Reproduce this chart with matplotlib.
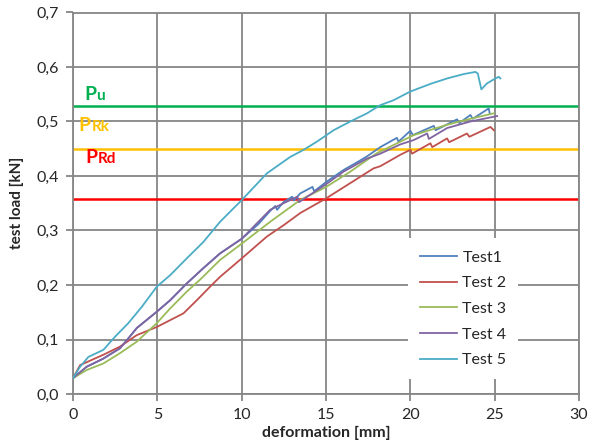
import matplotlib
matplotlib.use("Agg")
import matplotlib.pyplot as plt
from matplotlib.ticker import FuncFormatter, MultipleLocator

plt.rcParams['font.family'] = ['Lato', 'DejaVu Sans']

# ---- data ----
t1_x = [0, 0.42, 0.81, 1.8, 2.79, 3.28, 3.78, 4.97, 5.76, 6.75, 7.73, 8.72, 10.01, 11.0, 11.69,
        12.0, 12.1, 12.48, 13.0, 13.1, 13.47, 14.2, 14.3, 15.01, 16.04, 17.0, 17.43, 18.22,
        19.2, 19.3, 20.0, 20.15, 21.39, 21.5, 22.77, 22.9, 23.56, 23.7, 24.65, 24.71]
t1_y = [0.029, 0.040, 0.050, 0.065, 0.084, 0.102, 0.121, 0.151, 0.172, 0.203, 0.231, 0.258, 0.285, 0.312, 0.336,
        0.345, 0.338, 0.352, 0.362, 0.355, 0.368, 0.380, 0.372, 0.389, 0.411, 0.428, 0.436, 0.453,
        0.470, 0.463, 0.483, 0.475, 0.492, 0.484, 0.504, 0.497, 0.512, 0.505, 0.524, 0.514]

t2_x = [0, 0.42, 1.8, 2.79, 3.78, 4.97, 6.55, 7.34, 8.13, 8.72, 10.01, 11.5, 12.5, 13.47, 15.01,
        16.44, 17.82, 18.22, 19.41, 20.0, 20.1, 21.19, 21.3, 22.18, 22.3, 23.36, 23.5, 24.75, 24.95]
t2_y = [0.029, 0.053, 0.072, 0.087, 0.108, 0.123, 0.148, 0.172, 0.197, 0.215, 0.249, 0.289, 0.310, 0.332, 0.359,
        0.387, 0.414, 0.418, 0.439, 0.448, 0.441, 0.460, 0.453, 0.469, 0.462, 0.478, 0.472, 0.490, 0.484]

t3_x = [0, 0.81, 1.8, 2.79, 3.78, 4.97, 5.76, 6.75, 7.54, 8.72, 10.01, 11.69, 13.47, 15.01, 16.44,
        18.02, 19.41, 20.2, 22.18, 23.56, 24.95]
t3_y = [0.029, 0.044, 0.056, 0.075, 0.096, 0.130, 0.157, 0.188, 0.210, 0.246, 0.276, 0.316, 0.356, 0.380, 0.408,
        0.442, 0.463, 0.475, 0.494, 0.505, 0.515]

t4_x = [0, 0.81, 1.8, 2.79, 3.28, 3.78, 4.97, 5.76, 6.75, 7.73, 8.72, 10.01, 11.69, 12.48, 13.3, 13.4,
        15.01, 16.04, 17.43, 18.22, 19.41, 20.2, 21.0, 21.1, 22.18, 23.56, 25.15]
t4_y = [0.029, 0.050, 0.065, 0.084, 0.102, 0.121, 0.151, 0.172, 0.203, 0.231, 0.258, 0.285, 0.338, 0.350, 0.362, 0.352,
        0.385, 0.408, 0.432, 0.441, 0.458, 0.466, 0.478, 0.468, 0.488, 0.500, 0.510]

t5_x = [0, 0.42, 0.91, 1.8, 2.49, 3.28, 4.08, 4.97, 5.76, 6.75, 7.73, 8.72, 10.01, 11.5, 12.88, 13.67,
        14.46, 15.45, 16.44, 17.43, 18.22, 19.0, 20.0, 21.19, 22.18, 23.16, 23.86, 24.0, 24.21, 24.55,
        25.04, 25.24, 25.34]
t5_y = [0.029, 0.050, 0.068, 0.081, 0.105, 0.130, 0.160, 0.197, 0.218, 0.249, 0.279, 0.316, 0.356, 0.405, 0.435, 0.448,
        0.463, 0.484, 0.500, 0.515, 0.530, 0.539, 0.555, 0.569, 0.579, 0.587, 0.591, 0.588, 0.559, 0.570,
        0.579, 0.582, 0.579]

series_names = ["Test1", "Test 2", "Test 3", "Test 4", "Test 5"]
series_colors = ["#4F81BD", "#C0504D", "#9BBB59", "#8064A2", "#4BACC6"]

limit_values = [0.529, 0.449, 0.357]
limit_colors = ["#00B050", "#FFC000", "#FF0000"]
limit_main = ["P", "P", "P"]
limit_sub = ["u", "Rk", "Rd"]
limit_label_pos = [(0.65, 0.539), (0.31, 0.483), (0.75, 0.424)]
limit_sub_offset = [8.5, 9.8, 8.8]

# ---- figure ----
fig = plt.figure(figsize=(5.89, 4.47), dpi=100)
ax = fig.add_axes([73/589, 1-394/447, 506/589, 381.5/447])

grid_c = "#868686"
txt_c = "#262626"
ax.set_xlim(0, 30)
ax.set_ylim(0, 0.7)
ax.xaxis.set_major_locator(MultipleLocator(5))
ax.yaxis.set_major_locator(MultipleLocator(0.1))
ax.grid(True, color=grid_c, lw=1.3)
ax.set_axisbelow(True)
for s in ax.spines.values():
    s.set_color(grid_c)
    s.set_linewidth(1.3)
ax.tick_params(axis='both', colors=grid_c, length=5, width=1.3, labelcolor=txt_c,
               labelsize=11.5, pad=5)
ax.yaxis.set_major_formatter(FuncFormatter(lambda v, p: f"{v:.1f}".replace('.', ',')))
ax.xaxis.set_major_formatter(FuncFormatter(lambda v, p: f"{v:.0f}"))

for v, c in zip(limit_values, limit_colors):
    ax.axhline(v, color=c, lw=1.8, zorder=2)

xs = [t1_x, t2_x, t3_x, t4_x, t5_x]
ys = [t1_y, t2_y, t3_y, t4_y, t5_y]
for x, y, n, c in zip(xs, ys, series_names, series_colors):
    ax.plot(x, y, color=c, lw=1.3, label=n, zorder=3)

for (px, py), m, s, c, off in zip(limit_label_pos, limit_main, limit_sub, limit_colors, limit_sub_offset):
    ax.text(px, py, m, color=c, fontsize=14, fontweight='bold', va='baseline', ha='left', zorder=5)
    ax.annotate(s, xy=(px, py), xytext=(off, 0), textcoords='offset points', color=c,
                fontsize=11, fontweight='bold', va='baseline', ha='left', zorder=5)

leg = ax.legend(loc='upper left', bbox_to_anchor=(0.662, 0.408), frameon=True, fancybox=False,
                edgecolor='none', facecolor='white', framealpha=1, fontsize=11.5,
                handlelength=2.3, handletextpad=0.35, labelspacing=0.72, borderpad=0.75,
                borderaxespad=0)
leg.set_zorder(10)
for t in leg.get_texts():
    t.set_color(txt_c)

ax.set_xlabel("deformation [mm]", fontsize=11.5, fontweight='bold', color=txt_c, labelpad=3)
ax.set_ylabel("test load [kN]", fontsize=11, fontweight='bold', color=txt_c, labelpad=9)

fig.savefig("out.png", dpi=100)
